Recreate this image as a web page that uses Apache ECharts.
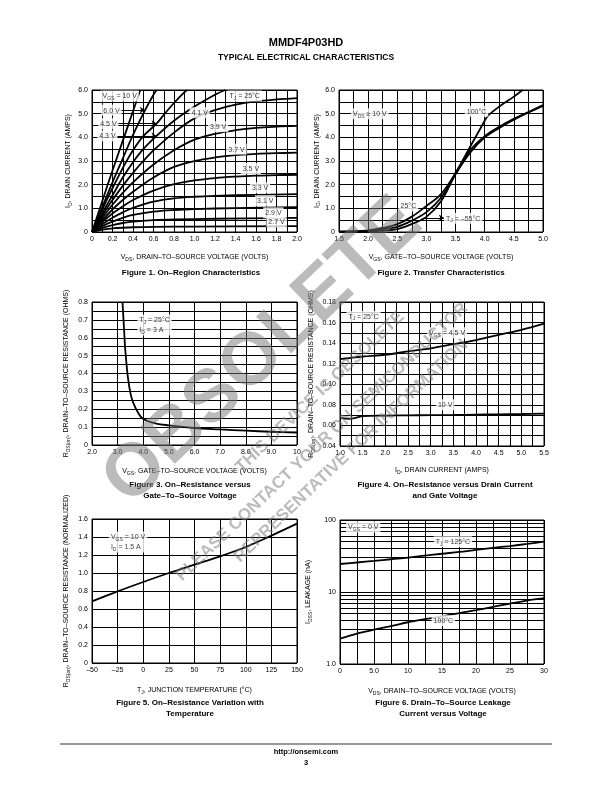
<!DOCTYPE html>
<html lang="en">
<head>
<meta charset="UTF-8">
<title>MMDF4P03HD</title>
<script src="https://cdn.jsdelivr.net/npm/echarts@6/dist/echarts.min.js"></script>
<style>
  html, body { margin: 0; padding: 0; background: #fff; }
  #main { width: 612px; height: 792px; }
</style>
</head>
<body>
<div id="main"></div>
<script>
  // ---- Figure 1: on-region characteristics, [VDS, ID] per VGS ----
  var f1_10V = [[0,0],[0.1,1.3],[0.2,2.6],[0.3,3.85],[0.4,5.1],[0.47,6.0]];
  var f1_6V  = [[0,0],[0.1,1.05],[0.2,2.1],[0.3,3.1],[0.4,4.1],[0.5,5.0],[0.6,5.8],[0.63,6.0]];
  var f1_45V = [[0,0],[0.1,0.95],[0.2,1.85],[0.3,2.7],[0.4,3.45],[0.5,4.05],[0.63,4.58],[0.7,4.95],[0.8,5.45],[0.9,5.9],[0.93,6.0]];
  var f1_43V = [[0,0],[0.1,0.8],[0.2,1.55],[0.3,2.3],[0.4,2.95],[0.5,3.5],[0.63,4.06],[0.8,4.7],[1.0,5.3],[1.2,5.8],[1.3,6.0]];
  var f1_41V = [[0,0],[0.1,0.7],[0.2,1.35],[0.3,1.95],[0.4,2.5],[0.5,3.0],[0.6,3.45],[0.8,4.2],[1.0,4.8],[1.2,5.15],[1.4,5.38],[1.6,5.52],[1.8,5.6],[2.0,5.66]];
  var f1_39V = [[0,0],[0.1,0.6],[0.2,1.15],[0.3,1.65],[0.4,2.1],[0.6,2.85],[0.8,3.45],[1.0,3.9],[1.2,4.15],[1.4,4.3],[1.6,4.4],[1.8,4.45],[2.0,4.48]];
  var f1_37V = [[0,0],[0.1,0.5],[0.2,0.95],[0.3,1.35],[0.4,1.7],[0.6,2.3],[0.8,2.75],[1.0,3.0],[1.2,3.15],[1.4,3.25],[1.6,3.3],[1.8,3.33],[2.0,3.35]];
  var f1_35V = [[0,0],[0.1,0.42],[0.2,0.78],[0.3,1.08],[0.4,1.35],[0.6,1.75],[0.8,2.02],[1.0,2.18],[1.2,2.28],[1.4,2.34],[1.6,2.38],[1.8,2.4],[2.0,2.42]];
  var f1_33V = [[0,0],[0.1,0.33],[0.2,0.6],[0.3,0.83],[0.4,1.02],[0.6,1.28],[0.8,1.42],[1.0,1.49],[1.2,1.53],[1.6,1.57],[2.0,1.6]];
  var f1_31V = [[0,0],[0.1,0.25],[0.2,0.44],[0.3,0.6],[0.4,0.72],[0.6,0.86],[0.8,0.93],[1.0,0.97],[1.4,1.01],[2.0,1.05]];
  var f1_29V = [[0,0],[0.1,0.17],[0.2,0.29],[0.3,0.38],[0.4,0.44],[0.6,0.5],[0.8,0.53],[1.2,0.56],[2.0,0.6]];
  var f1_27V = [[0,0],[0.1,0.1],[0.2,0.15],[0.3,0.18],[0.4,0.2],[0.6,0.22],[1.0,0.23],[2.0,0.25]];
  var f1Notes = [
    [0.27, 5.75, '{n|V}{s|GS}{n| = 10 V}'],
    [0.19, 5.15, '6.0 V'], [0.16, 4.58, '4.5 V'], [0.15, 4.06, '4.3 V'],
    [1.49, 5.75, '{n|T}{s|J}{n| = 25°C}'],
    [1.05, 5.04, '4.1 V'], [1.23, 4.45, '3.9 V'], [1.41, 3.5, '3.7 V'],
    [1.55, 2.68, '3.5 V'], [1.64, 1.87, '3.3 V'], [1.69, 1.32, '3.1 V'],
    [1.77, 0.81, '2.9 V'], [1.8, 0.43, '2.7 V']
  ];
  var f1Arrows = [[0.26, 0.515, 5.15], [0.24, 0.63, 4.58], [0.23, 0.63, 4.06]];

  // ---- Figure 2: transfer characteristics, [VGS, ID] ----
  var f2_100C = [[1.5,0.02],[2.0,0.07],[2.25,0.17],[2.5,0.33],[2.75,0.65],[3.0,1.1],[3.25,1.6],[3.5,2.5],[3.75,3.6],[4.0,4.7],[4.05,4.9],[4.25,5.3],[4.5,5.72],[4.65,6.0]];
  var f2_25C  = [[1.5,0.01],[2.0,0.05],[2.25,0.12],[2.5,0.22],[2.75,0.48],[3.0,0.84],[3.25,1.45],[3.5,2.45],[3.75,3.35],[4.0,4.0],[4.25,4.4],[4.5,4.75],[4.75,5.05],[5.0,5.33]];
  var f2_m55C = [[1.5,0.0],[2.0,0.03],[2.25,0.06],[2.5,0.12],[2.75,0.34],[3.0,0.64],[3.25,1.3],[3.5,2.45],[3.75,3.45],[4.0,4.05],[4.25,4.45],[4.5,4.78],[4.75,5.07],[5.0,5.36]];
  var f2Notes = [
    [2.03, 5.0, '{n|V}{s|DS}{n| ≥ 10 V}'],
    [3.86, 5.1, '100°C'],
    [2.69, 1.1, '25°C'],
    [3.63, 0.58, '{n|T}{s|J}{n| = –55°C}']
  ];
  var f2Arrows = [[2.92, 3.3, 0.6]];

  // ---- Figure 3: RDS(on) vs VGS ----
  var f3Curve = [[3.19,0.8],[3.25,0.65],[3.3,0.53],[3.4,0.38],[3.5,0.29],[3.6,0.24],[3.8,0.18],[4.0,0.145],[4.5,0.12],[5.0,0.11],[6.0,0.095],[7.0,0.087],[8.0,0.08],[9.0,0.074],[10,0.07]];
  var f3Notes = [[3.77, 0.672, '{n|T}{s|J}{n| = 25°C}\n{n|I}{s|D}{n| = 3 A}']];

  // ---- Figure 4: RDS(on) vs ID ----
  var f4Id   = [1.0, 1.2, 1.5, 2.0, 2.5, 3.0, 3.5, 4.0, 4.5, 5.0, 5.5];
  var f4_45V = [0.1244, 0.1255, 0.127, 0.1287, 0.132, 0.135, 0.139, 0.143, 0.148, 0.153, 0.159];
  var f4_10V = [0.0676, 0.0663, 0.069, 0.0696, 0.0698, 0.07, 0.0702, 0.0705, 0.0708, 0.0711, 0.0715];
  var f4Notes = [
    [1.52, 0.166, '{n|T}{s|J}{n| = 25°C}'],
    [3.36, 0.15, '{n|V}{s|GS}{n| = 4.5 V}'],
    [3.32, 0.08, '10 V']
  ];

  // ---- Figure 5: normalized RDS(on) vs TJ ----
  var f5Tj  = [-50, -25, 0, 25, 50, 75, 100, 125, 150];
  var f5Rds = [0.685, 0.796, 0.9, 1.0, 1.093, 1.185, 1.289, 1.415, 1.548];
  var f5Notes = [[-33.5, 1.345, '{n|V}{s|GS}{n| = 10 V}\n{n|I}{s|D}{n| = 1.5 A}']];

  // ---- Figure 6: IDSS vs VDS (log) ----
  var f6Vds   = [0, 2.5, 5, 7.5, 10, 12.5, 15, 17.5, 20, 22.5, 25, 27.5, 30];
  var f6_125C = [24.5, 25.7, 27, 28.5, 30, 32, 34, 36, 38.5, 41, 43.5, 46.5, 50];
  var f6_100C = [2.25, 2.65, 3.0, 3.35, 3.8, 4.2, 4.6, 5.1, 5.6, 6.2, 6.9, 7.6, 8.2];
  var f6Minor = [2, 3, 4, 5, 6, 7, 8, 9, 20, 30, 40, 50, 60, 70, 80, 90];
  var f6Notes = [
    [3.42, 80, '{n|V}{s|GS}{n| = 0 V}'],
    [16.6, 50, '{n|T}{s|J}{n| = 125°C}'],
    [15.2, 4, '100°C']
  ];

  var FONT = "'Liberation Sans Narrow', 'Liberation Sans', Arial, sans-serif";
  var richSub = {
    n: {fontFamily: FONT, fontSize: 7, color: '#000'},
    s: {fontFamily: FONT, fontSize: 5, color: '#000', padding: [4, 0, 0, 0]}
  };
  var gridLine = {show: true, lineStyle: {color: '#000', width: 1}};

  function xAxis(gi, min, max, interval, minor, fmt, name, gap) {
    return {
      type: 'value', gridIndex: gi, min: min, max: max, interval: interval,
      axisLine: {show: false}, axisTick: {show: false},
      axisLabel: {fontFamily: FONT, fontSize: 7, color: '#000', margin: 4, formatter: fmt, showMinLabel: true, showMaxLabel: true},
      splitLine: gridLine,
      minorTick: {show: false, splitNumber: minor || 1},
      minorSplitLine: {show: !!minor, lineStyle: {color: '#000', width: 1}},
      name: name, nameLocation: 'middle', nameGap: gap,
      nameTextStyle: {fontFamily: FONT, fontSize: 7, color: '#000', rich: richSub}
    };
  }
  function yAxis(gi, min, max, interval, minor, fmt, name, gap, type) {
    var a = xAxis(gi, min, max, interval, minor, fmt, name, gap);
    if (type === 'log') {
      a.type = 'log'; a.logBase = 10; delete a.interval;
    }
    return a;
  }
  function curve(xi, data, w) {
    return {
      type: 'line', xAxisIndex: xi, yAxisIndex: xi, data: data, symbol: 'none',
      smooth: 0.35, silent: true, z: 5,
      lineStyle: {color: '#000', width: w || 1.8}
    };
  }
  function zip(a, b) { return a.map(function (v, i) { return [v, b[i]]; }); }
  function notes(xi, list, leftAlign) {
    return {
      type: 'scatter', xAxisIndex: xi, yAxisIndex: xi, symbolSize: 0, silent: true, z: 8,
      data: list.map(function (d) { return {value: [d[0], d[1]], txt: d[2]}; }),
      label: {
        show: true, position: leftAlign ? 'right' : 'inside', distance: 0,
        formatter: function (p) { return p.data.txt; },
        fontFamily: FONT, fontSize: 7, color: '#000', backgroundColor: '#fff',
        padding: [1, 2, 0, 2], lineHeight: 10, rich: richSub
      }
    };
  }
  function arrows(xi, list) {
    return {
      type: 'line', xAxisIndex: xi, yAxisIndex: xi, data: [], silent: true, z: 6,
      markLine: {
        silent: true, symbol: ['none', 'arrow'], symbolSize: 5, label: {show: false},
        lineStyle: {color: '#000', width: 1, type: 'solid'},
        data: list.map(function (a) { return [{coord: [a[0], a[2]]}, {coord: [a[1], a[2]]}]; })
      }
    };
  }
  function one(v) { return v === 0 ? '0' : v.toFixed(1); }

  var chart = echarts.init(document.getElementById('main'));

  var texts = [
    {x: 306, y: 43, t: 'MMDF4P03HD', s: 11},
    {x: 306, y: 58, t: 'TYPICAL ELECTRICAL CHARACTERISTICS', s: 8.5},
    {x: 191, y: 273, t: 'Figure 1. On–Region Characteristics', s: 8},
    {x: 441, y: 273, t: 'Figure 2. Transfer Characteristics', s: 8},
    {x: 190, y: 485, t: 'Figure 3. On–Resistance versus', s: 8},
    {x: 190, y: 496, t: 'Gate–To–Source Voltage', s: 8},
    {x: 445, y: 485, t: 'Figure 4. On–Resistance versus Drain Current', s: 8},
    {x: 445, y: 496, t: 'and Gate Voltage', s: 8},
    {x: 190, y: 703, t: 'Figure 5. On–Resistance Variation with', s: 8},
    {x: 190, y: 714, t: 'Temperature', s: 8},
    {x: 443, y: 703, t: 'Figure 6. Drain–To–Source Leakage', s: 8},
    {x: 443, y: 714, t: 'Current versus Voltage', s: 8},
    {x: 306, y: 752, t: 'http://onsemi.com', s: 7.5},
    {x: 306, y: 763, t: '3', s: 7.5}
  ];
  var graphics = texts.map(function (d) {
    return {
      type: 'text', x: d.x, y: d.y, silent: true,
      style: {text: d.t, fill: '#000', font: 'bold ' + d.s + 'px "Liberation Sans", Arial, sans-serif', align: 'center', verticalAlign: 'middle'}
    };
  });
  graphics.push({type: 'line', silent: true, shape: {x1: 60, y1: 744, x2: 552, y2: 744}, style: {stroke: '#000', lineWidth: 0.8}});
  // watermark
  var wm = [
    {x: 263, y: 352, t: 'OBSOLETE', s: 74},
    {x: 320, y: 392, t: 'THIS DEVICE IS OBSOLETE', s: 17},
    {x: 322, y: 442, t: 'PLEASE CONTACT YOUR ON SEMICONDUCTOR', s: 17},
    {x: 351, y: 451, t: 'REPRESENTATIVE FOR INFORMATION', s: 17}
  ];
  wm.forEach(function (d) {
    graphics.push({
      type: 'text', x: d.x, y: d.y, rotation: 0.76, z: 100, silent: true,
      style: {text: d.t, fill: 'rgba(120,120,120,0.5)', font: 'bold ' + d.s + 'px "Liberation Sans", Arial, sans-serif', align: 'center', verticalAlign: 'middle'}
    });
  });

  chart.setOption({
    backgroundColor: '#fff',
    animation: false,
    grid: [
      {left: 92, top: 90, width: 205, height: 142},
      {left: 339, top: 90, width: 204, height: 142},
      {left: 92, top: 302, width: 205, height: 143},
      {left: 340, top: 302, width: 204, height: 144},
      {left: 92, top: 519, width: 205, height: 144},
      {left: 340, top: 520, width: 204, height: 144}
    ].map(function (g) { g.show = true; g.borderColor = '#000'; g.borderWidth = 1; return g; }),
    xAxis: [
      xAxis(0, 0, 2, 0.2, 2, one, '{n|V}{s|DS}{n|, DRAIN–TO–SOURCE VOLTAGE (VOLTS)}', 21),
      xAxis(1, 1.5, 5, 0.5, 2, one, '{n|V}{s|GS}{n|, GATE–TO–SOURCE VOLTAGE (VOLTS)}', 21),
      xAxis(2, 2, 10, 1, 0, function (v) { return v === 10 ? '10' : v.toFixed(1); }, '{n|V}{s|GS}{n|, GATE–TO–SOURCE VOLTAGE (VOLTS)}', 22),
      xAxis(3, 1, 5.5, 0.5, 2, one, '{n|I}{s|D}{n|, DRAIN CURRENT (AMPS)}', 20),
      xAxis(4, -50, 150, 25, 0, function (v) { return String(v).replace('-', '–'); }, '{n|T}{s|J}{n|, JUNCTION TEMPERATURE (°C)}', 23),
      xAxis(5, 0, 30, 5, 2, function (v) { return v === 5 ? '5.0' : String(v); }, '{n|V}{s|DS}{n|, DRAIN–TO–SOURCE VOLTAGE (VOLTS)}', 23)
    ],
    yAxis: [
      yAxis(0, 0, 6, 1, 2, one, '{n|I}{s|D}{n|, DRAIN CURRENT (AMPS)}', 19),
      yAxis(1, 0, 6, 1, 2, one, '{n|I}{s|D}{n|, DRAIN CURRENT (AMPS)}', 17),
      yAxis(2, 0, 0.8, 0.1, 2, one, '{n|R}{s|DS(on)}{n|, DRAIN–TO–SOURCE RESISTANCE (OHMS)}', 21),
      yAxis(3, 0.04, 0.18, 0.02, 2, function (v) { return v.toFixed(2); }, '{n|R}{s|DS(on)}{n|, DRAIN–TO–SOURCE RESISTANCE (OHMS)}', 24),
      yAxis(4, 0, 1.6, 0.2, 0, one, '{n|R}{s|DS(on)}{n|, DRAIN–TO–SOURCE RESISTANCE (NORMALIZED)}', 21),
      yAxis(5, 1, 100, 0, 0, function (v) { return v === 1 ? '1.0' : String(v); }, '{n|I}{s|DSS}{n|, LEAKAGE (nA)}', 27, 'log')
    ],
    series: [
      curve(0, f1_10V), curve(0, f1_6V), curve(0, f1_45V), curve(0, f1_43V),
      curve(0, f1_41V), curve(0, f1_39V), curve(0, f1_37V), curve(0, f1_35V),
      curve(0, f1_33V), curve(0, f1_31V), curve(0, f1_29V), curve(0, f1_27V),
      notes(0, f1Notes), arrows(0, f1Arrows),
      curve(1, f2_100C), curve(1, f2_25C), curve(1, f2_m55C),
      notes(1, f2Notes), arrows(1, f2Arrows),
      curve(2, f3Curve), notes(2, f3Notes, true),
      curve(3, zip(f4Id, f4_45V)), curve(3, zip(f4Id, f4_10V)), notes(3, f4Notes),
      curve(4, zip(f5Tj, f5Rds)), notes(4, f5Notes, true),
      (function () {
        var s = curve(5, zip(f6Vds, f6_125C));
        s.markLine = {
          silent: true, symbol: 'none', label: {show: false}, z: 1,
          lineStyle: {color: '#000', width: 1, type: 'solid'},
          data: f6Minor.map(function (v) { return {yAxis: v}; })
        };
        return s;
      })(),
      curve(5, zip(f6Vds, f6_100C)), notes(5, f6Notes)
    ],
    graphic: graphics
  });
</script>
</body>
</html>
